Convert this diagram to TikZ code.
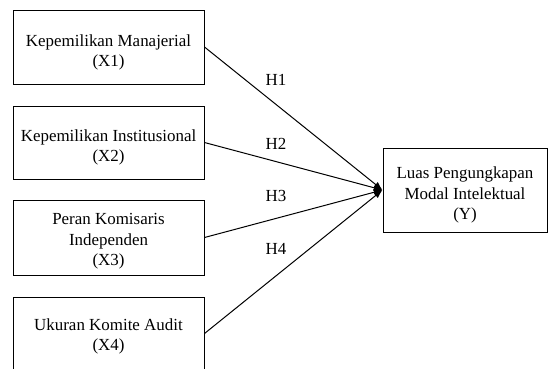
\documentclass[tikz,border=0pt]{standalone}
\usepackage{fontspec}
\setmainfont{Liberation Serif}
\usetikzlibrary{arrows.meta}

\tikzset{every picture/.style={line width=0.75pt}}
\tikzset{
  varbox/.style={draw, inner sep=0pt, minimum width=143.25pt},
  vartext/.style={align=center, inner sep=0.75pt, font=\fontsize{12.7}{15.2}\selectfont},
  hyplabel/.style={inner sep=0.75pt, font=\fontsize{12.7}{15}\selectfont},
  hyparrow/.style={-{Latex[length=6.5pt,width=5pt]}}
}

\begin{document}
\begin{tikzpicture}[x=0.75pt,y=0.75pt,yscale=-1,xscale=1]
\useasboundingbox (0,0) rectangle (548,368);
\clip (0,0) rectangle (548,368);

%Shape: Rectangle [X1]
\node [varbox, minimum height=55.5pt] (x1) at (108.5,47) {};
%Shape: Rectangle [X2]
\node [varbox, minimum height=54.75pt] (x2) at (108.5,142.5) {};
%Shape: Rectangle [X3]
\node [varbox, minimum height=56.25pt] (x3) at (108.5,237.5) {};
%Shape: Rectangle [X4]
\node [varbox, minimum height=54.75pt] (x4) at (108.5,333.5) {};
%Shape: Rectangle [Y]
\node [varbox, minimum width=123pt, minimum height=63pt] (y) at (465,190) {};

% Text Node
\node [vartext] (x1text) at ([yshift=4pt]x1.center) {Kepemilikan Manajerial\\(X1)};
% Text Node
\node [vartext] (x2text) at ([yshift=3.75pt]x2.center) {Kepemilikan Institusional\\(X2)};
% Text Node
\node [vartext] (x3text) at ([yshift=2.8pt]x3.center) {Peran Komisaris\\Independen\\(X3)};
% Text Node
\node [vartext] (x4text) at ([yshift=2pt]x4.center) {Ukuran Komite Audit\\(X4)};
% Text Node
\node [vartext] (ytext) at ([yshift=3.75pt]y.center) {Luas Pengungkapan\\Modal Intelektual\\(Y)};

%Straight Lines
\draw [hyparrow] (x1.east) -- (y.west);
\draw [hyparrow] (x2.east) -- (y.west);
\draw [hyparrow] (x3.east) -- (y.west);
\draw [hyparrow] (x4.east) -- (y.west);

% Text Node
\node [hyplabel] (h1) at (276,80) {H1};
% Text Node
\node [hyplabel] (h2) at (276,144) {H2};
% Text Node
\node [hyplabel] (h3) at (276,196) {H3};
% Text Node
\node [hyplabel] (h4) at (276,249) {H4};

\end{tikzpicture}
\end{document}
